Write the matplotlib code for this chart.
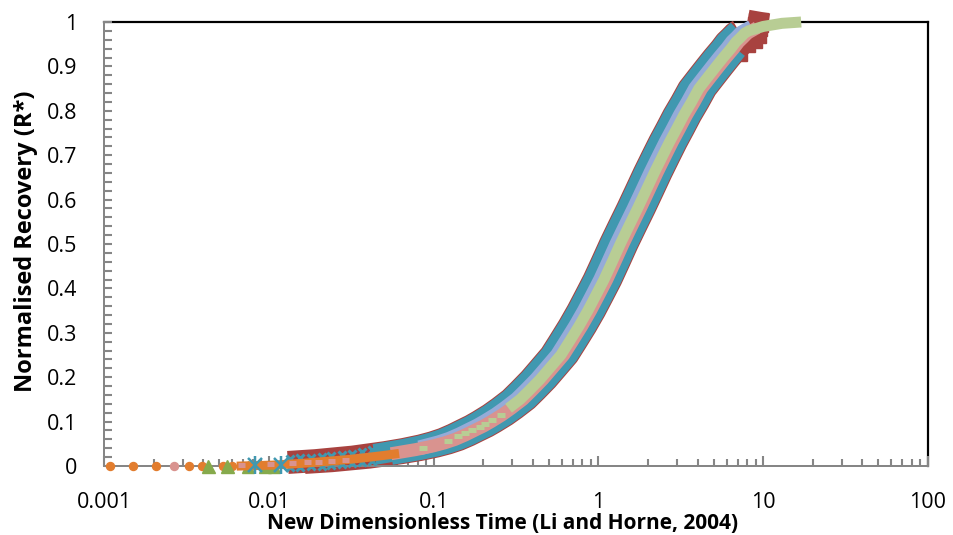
import matplotlib
matplotlib.use("Agg")
import matplotlib.pyplot as plt
from matplotlib.ticker import FixedLocator, LogLocator, NullFormatter

plt.rcParams['font.family'] = ['Open Sans', 'DejaVu Sans']
plt.rcParams['lines.solid_joinstyle'] = 'round'

# Recovery levels shared by the main core runs
r_band = [0.008, 0.012, 0.02, 0.03, 0.037, 0.045, 0.052, 0.06, 0.07, 0.08, 0.09, 0.10,
          0.115, 0.13, 0.15, 0.17, 0.195, 0.22, 0.25, 0.28, 0.315, 0.35, 0.385, 0.42,
          0.46, 0.50, 0.54, 0.58, 0.62, 0.66, 0.70, 0.73, 0.76, 0.79, 0.82, 0.85,
          0.875, 0.90, 0.92, 0.94, 0.955, 0.965, 0.975, 0.98]

# Dimensionless time of each run at those recovery levels
t_mid = [0.015, 0.022, 0.037, 0.058, 0.075, 0.095, 0.112, 0.13, 0.15, 0.17, 0.193, 0.215,
         0.25, 0.285, 0.335, 0.38, 0.442, 0.505, 0.592, 0.666, 0.762, 0.863, 0.967, 1.082,
         1.213, 1.357, 1.530, 1.728, 1.942, 2.18, 2.463, 2.703, 2.987, 3.292, 3.673, 4.069,
         4.59, 5.184, 5.725, 6.36, 6.825, 7.28, 7.725, 8.16]
t_early = [0.01305, 0.01914, 0.0322, 0.0505, 0.0653, 0.0827, 0.0974, 0.1131, 0.1305, 0.1479, 0.1679, 0.1871,
           0.2175, 0.248, 0.2915, 0.3306, 0.3845, 0.4394, 0.515, 0.5794, 0.663, 0.7508, 0.8413, 0.9413,
           1.0553, 1.1806, 1.3311, 1.5034, 1.6895, 1.8966, 2.1428, 2.3516, 2.5987, 2.864, 3.1955, 3.54,
           3.9933, 4.51, 4.9808, 5.5332, 5.9378, 6.3336, 6.7208, 7.0992]
t_late = [0.0165, 0.0242, 0.0407, 0.0638, 0.0825, 0.1045, 0.1232, 0.143, 0.165, 0.187, 0.2123, 0.2365,
          0.275, 0.3135, 0.3685, 0.418, 0.4862, 0.5555, 0.6512, 0.7326, 0.8382, 0.9493, 1.0637, 1.1902,
          1.3343, 1.4927, 1.683, 1.9008, 2.1362, 2.398, 2.7093, 2.9733, 3.2857, 3.6212, 4.0403, 4.4759,
          5.049, 5.7024, 6.2975, 6.996, 7.5075, 8.008, 8.4975, 8.976]
t_purple = [0.0143, 0.021, 0.0353, 0.0554, 0.0716, 0.0907, 0.107, 0.1242, 0.1433, 0.1624, 0.1843, 0.2053,
            0.2388, 0.2722, 0.3199, 0.3629, 0.4221, 0.4823, 0.5654, 0.636, 0.7277, 0.8242, 0.9235, 1.0333,
            1.1584, 1.2959, 1.4612, 1.6502, 1.8546, 2.0819, 2.3522, 2.5814, 2.8526, 3.1439, 3.5077, 3.8859,
            4.3835, 4.9507, 5.4674, 6.0738, 6.5179, 6.9524, 7.3774, 7.7928]
t_pink = [0.0156, 0.0229, 0.0385, 0.0603, 0.078, 0.0988, 0.1165, 0.1352, 0.156, 0.1768, 0.2007, 0.2236,
          0.26, 0.2964, 0.3484, 0.3952, 0.4597, 0.5252, 0.6157, 0.6926, 0.7925, 0.8975, 1.0057, 1.1253,
          1.2615, 1.4113, 1.5912, 1.7971, 2.0197, 2.2672, 2.5615, 2.8111, 3.1065, 3.4237, 3.8199, 4.2318,
          4.7736, 5.3914, 5.954, 6.6144, 7.098, 7.5712, 8.034, 8.4864]

# Red run tail, the slowest to reach full recovery
t_red_tail = [6.9, 7.8, 8.5, 9.0, 9.2, 9.3]
r_red_tail = [0.935, 0.955, 0.965, 0.975, 0.99, 1.0]

# Green run: sparse points early, continuous later, reaching R* = 1
t_green_pts = [0.0857, 0.1216, 0.140, 0.155, 0.172, 0.190, 0.205, 0.225, 0.255]
r_green_pts = [0.0405, 0.056, 0.068, 0.074, 0.081, 0.088, 0.095, 0.104, 0.115]
t_green_tail = [10.0, 13.0, 17.0]
r_green_tail = [0.99, 0.997, 1.0]

# Pink run early points
t_pink_pts = [0.00265, 0.0068, 0.0102, 0.0139, 0.017, 0.020, 0.024, 0.029]
r_pink_pts = [0.0, 0.002, 0.004, 0.006, 0.008, 0.010, 0.012, 0.014]

# Orange run: separate early points then a dense stretch
t_orange_pts = [0.00109, 0.0015, 0.00207, 0.00327, 0.00392, 0.0053, 0.0060]
r_orange_pts = [0, 0, 0, 0, 0, 0, 0]
t_orange = [0.0068, 0.0085, 0.0105, 0.013, 0.016, 0.020, 0.025, 0.031, 0.039, 0.048, 0.058]
r_orange = [0.0, 0.001, 0.002, 0.004, 0.006, 0.009, 0.012, 0.015, 0.019, 0.023, 0.027]

# Green triangle run and teal cross markers at early time
t_tri = [0.0043, 0.0056, 0.0075, 0.0095, 0.0108]
r_tri = [0.0, 0.0, -0.002, -0.002, -0.002]
t_star = [0.0083, 0.0118]
r_star = [0.002, 0.003]
t_cross = [0.0135, 0.0155, 0.018, 0.021, 0.024, 0.028, 0.032, 0.037, 0.042]
r_cross_hi = [0.016, 0.017, 0.019, 0.021, 0.023, 0.025, 0.028, 0.031, 0.035]
r_cross_lo = [-0.003, -0.002, -0.001, 0.0, 0.002, 0.004, 0.006, 0.008, 0.011]

RED = '#A8423F'
TEAL = '#4098B0'
PURPLE = '#95ABD8'
PINK = '#D9938F'
GREEN = '#B8CD94'
ORANGE = '#E27D2E'
OLIVE = '#86AA4C'
GREY = '#868686'

PX = 72 / 100  # points per pixel at dpi 100

fig = plt.figure(figsize=(9.54, 5.35), dpi=100)
ax = fig.add_axes([104 / 954, 1 - 466 / 535, 824 / 954, 444 / 535])

# outer band: red runs under the teal runs
ax.plot(t_early, r_band, color=RED, lw=23 * PX, solid_capstyle='butt', clip_on=False, zorder=2)
ax.plot(t_late[:40], r_band[:40], color=RED, lw=23 * PX, solid_capstyle='butt', clip_on=False, zorder=2)
ax.plot(t_red_tail, r_red_tail, 's-', color=RED, lw=21 * PX, ms=19 * PX, clip_on=False, zorder=2)
ax.plot(t_early[3:42], r_band[3:42], color=TEAL, lw=21 * PX, clip_on=False, zorder=3)
ax.plot(t_late[3:39], r_band[3:39], color=TEAL, lw=21 * PX, clip_on=False, zorder=3)
ax.plot(t_cross, r_cross_hi, 'x', color=TEAL, ms=8 * PX, mew=3 * PX, clip_on=False, zorder=3)
ax.plot(t_cross, r_cross_lo, 'x', color=TEAL, ms=8 * PX, mew=3 * PX, clip_on=False, zorder=3)

# inner runs
ax.plot(t_purple[5:], r_band[5:], color=PURPLE, lw=15 * PX, clip_on=False, zorder=4)
ax.plot(t_pink[3:], r_band[3:], color=PINK, lw=13 * PX, clip_on=False, zorder=5)
ax.plot(t_mid[13:] + t_green_tail, r_band[13:] + r_green_tail, color=GREEN, lw=11 * PX,
        solid_capstyle='butt', clip_on=False, zorder=6)
ax.plot(t_green_pts, r_green_pts, '_', color=GREEN, ms=8 * PX, mew=5 * PX, clip_on=False, zorder=6)

# early-time points along the axis
ax.plot(t_orange, r_orange, color=ORANGE, lw=9 * PX, clip_on=False, zorder=7)
ax.plot(t_orange_pts, r_orange_pts, 'o', color=ORANGE, ms=8 * PX, clip_on=False, zorder=7)
ax.plot(t_tri[:2], r_tri[:2], '^', color=OLIVE, ms=13 * PX, clip_on=False, zorder=8)
ax.plot(t_tri[2:], r_tri[2:], '^', color=OLIVE, ms=12 * PX, clip_on=False, zorder=6)
ax.plot(t_pink_pts[1:], r_pink_pts[1:], '_', color=PINK, ms=7 * PX, mew=5 * PX, clip_on=False, zorder=8)
ax.plot(t_pink_pts[:1], r_pink_pts[:1], 'o', color=PINK, ms=8 * PX, clip_on=False, zorder=8)
ax.plot(t_star, r_star, 'x', color=TEAL, ms=14 * PX, mew=2.5 * PX, clip_on=False, zorder=9)
ax.plot(t_star, r_star, '|', color=TEAL, ms=18 * PX, mew=2.5 * PX, clip_on=False, zorder=9)

ax.set_xscale('log')
ax.set_xlim(0.001, 100)
ax.set_ylim(0, 1)

ax.set_yticks([i / 10 for i in range(11)])
ax.set_yticklabels(['0'] + ['%.1f' % (i / 10) for i in range(1, 10)] + ['1'])
ax.yaxis.set_minor_locator(FixedLocator([i / 50 for i in range(51)]))
ax.set_xticks([0.001, 0.01, 0.1, 1, 10, 100])
ax.set_xticklabels(['0.001', '0.01', '0.1', '1', '10', '100'])
ax.xaxis.set_minor_locator(LogLocator(base=10, subs=range(2, 10)))
ax.xaxis.set_minor_formatter(NullFormatter())

ax.tick_params(axis='y', which='both', direction='in', length=6, width=1.5, color=GREY,
               labelsize=15.5, pad=19)
ax.tick_params(axis='x', which='major', direction='in', length=7, width=1.5, color=GREY,
               labelsize=15.5, pad=18.5)
ax.tick_params(axis='x', which='minor', direction='in', length=5, width=1.5, color=GREY)

for side in ['left', 'bottom']:
    ax.spines[side].set_color(GREY)
    ax.spines[side].set_linewidth(2 * PX)
for side in ['top', 'right']:
    ax.spines[side].set_color('black')
    ax.spines[side].set_linewidth(2.2 * PX)
    ax.spines[side].set_zorder(1)

fig.text(26 / 954, 1 - 241.5 / 535, 'Normalised Recovery (R*)', rotation=90,
         ha='center', va='center', fontsize=17, fontweight='bold')
fig.text(502.5 / 954, 1 - 529 / 535, 'New Dimensionless Time (Li and Horne, 2004)',
         ha='center', va='baseline', fontsize=15, fontweight='bold')

fig.savefig('out.png', dpi=100)
